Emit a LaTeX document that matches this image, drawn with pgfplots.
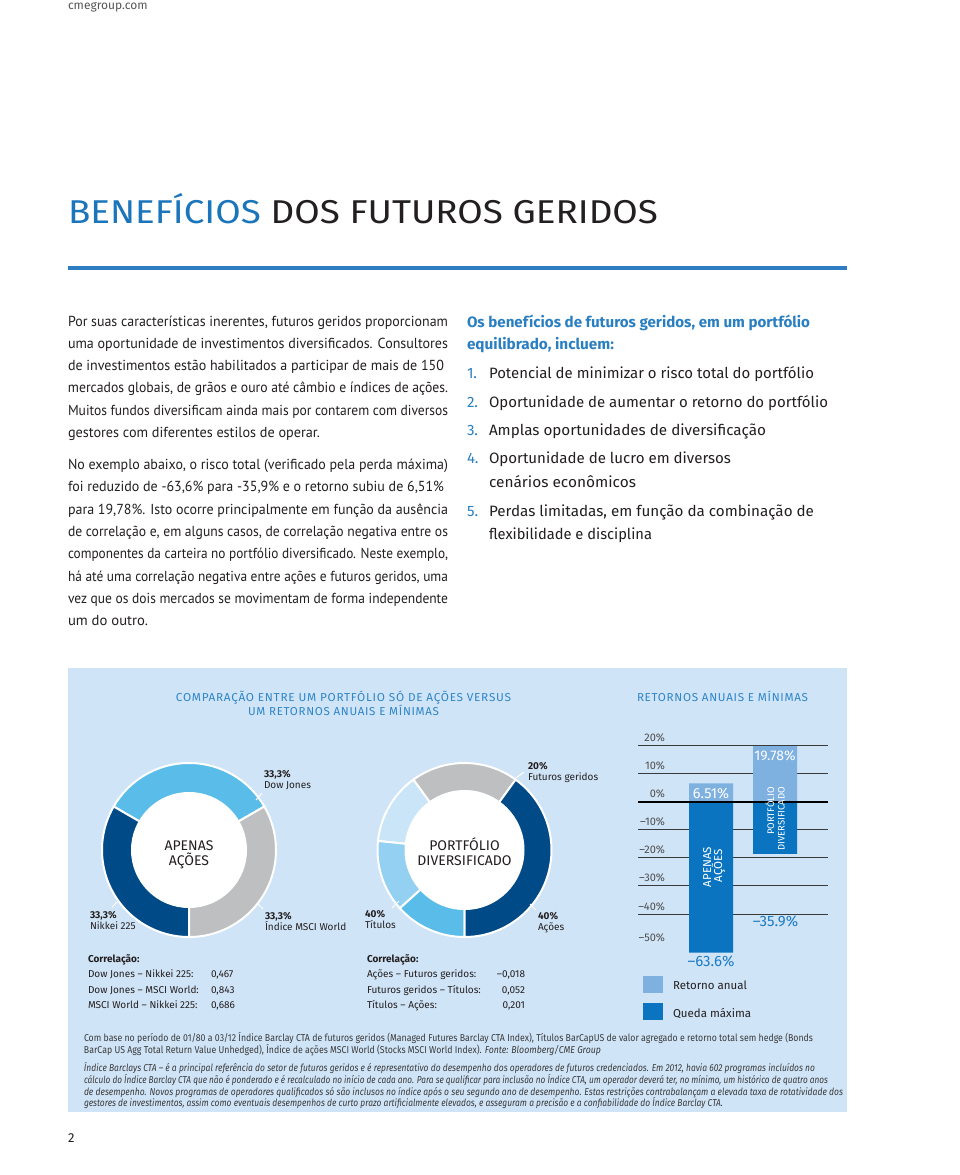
\documentclass[border=0pt]{standalone}
\usepackage{fontspec}
\setmainfont{Fira Sans}
\newfontfamily\ptsans{PT Sans}
\newfontfamily\spaced{Fira Sans}[LetterSpace=6.0]
\usepackage{graphicx}
\usepackage{pgfplots}
\pgfplotsset{compat=1.18}
\usetikzlibrary{calc}
\newlength\px \setlength\px{0.75pt}
\newcommand\fs[1]{\fontsize{#1\px}{#1\px}\selectfont}
\newcommand\fitline[2]{\resizebox{#1\px}{\height}{#2}}
\definecolor{txt}{HTML}{231F20}
\definecolor{hdrgray}{HTML}{555555}
\definecolor{cmeblue}{HTML}{1B75BB}
\definecolor{rulecol}{HTML}{2E7DC2}
\definecolor{headblue}{HTML}{2A7FC1}
\definecolor{bgbox}{HTML}{D0E4F7}
\definecolor{charttitle}{HTML}{2F86C9}
\definecolor{navy}{HTML}{004A87}
\definecolor{ltblue}{HTML}{5ABCE8}
\definecolor{dgray}{HTML}{BDBFC1}
\definecolor{paleblue}{HTML}{C9E5F7}
\definecolor{midblue}{HTML}{93D0F1}
\definecolor{barlight}{HTML}{7EB0E0}
\definecolor{bardark}{HTML}{0A74C1}
\definecolor{labblue}{HTML}{1C7CC5}
\definecolor{tickgray}{HTML}{4D4D4D}
\definecolor{gridcol}{HTML}{3A3A3A}
\definecolor{foot}{HTML}{3A3A3A}
\newcommand\seg[5]{%
  \pgfmathsetmacro\sa{-(#3)}\pgfmathsetmacro\ea{-(#4)}%
  \fill[#5, draw=white, line width=2\px] (#1,#2) -- ++(\sa:87) arc[start angle=\sa, end angle=\ea, radius=87] -- cycle;}
\begin{document}
\begin{tikzpicture}[x=\px,y=-\px, every node/.style={inner sep=0pt, outer sep=0pt},
  bodyline/.style={anchor=base west, font=\ptsans\fs{14.5}, text=txt},
  rline/.style={anchor=base west, font=\fs{15}, text=txt},
  rnum/.style={anchor=base west, font=\fs{15}, text=headblue},
  dlab/.style={anchor=base west, font=\fs{10}, text=txt},
  dpct/.style={anchor=base west, font=\fs{10}\bfseries, text=txt},
  corr/.style={anchor=base west, font=\fs{10}, text=txt},
  footl/.style={anchor=base west, font=\fs{10}, text=foot}]
\path[use as bounding box] (0,0) rectangle (960,1175);
\fill[white] (0,0) rectangle (960,1175);
% header
\node[anchor=base west, font=\fs{12}, text=hdrgray] at (68,9) {cmegroup.com};
\node[anchor=base west, font=\fs{33}] at (68,223) {\fitline{590}{\color{cmeblue}BENEFÍCIOS \color{txt}DOS FUTUROS GERIDOS}};
\fill[rulecol] (68,266) rectangle (847,270);
% left column
\node[bodyline] at (68,326) {\fitline{380}{Por suas características inerentes, futuros geridos proporcionam}};
\node[bodyline] at (68,348.3) {\fitline{380}{uma oportunidade de investimentos diversificados. Consultores}};
\node[bodyline] at (68,370.6) {\fitline{376}{de investimentos estão habilitados a participar de mais de 150}};
\node[bodyline] at (68,392.9) {\fitline{380}{mercados globais, de grãos e ouro até câmbio e índices de ações.}};
\node[bodyline] at (68,415.2) {\fitline{380}{Muitos fundos diversificam ainda mais por contarem com diversos}};
\node[bodyline] at (68,437.5) {\fitline{252}{gestores com diferentes estilos de operar.}};
\node[bodyline] at (68,469.5) {\fitline{380}{No exemplo abaixo, o risco total (verificado pela perda máxima)}};
\node[bodyline] at (68,491.8) {\fitline{376}{foi reduzido de -63,6\% para -35,9\% e o retorno subiu de 6,51\%}};
\node[bodyline] at (68,514.1) {\fitline{380}{para 19,78\%. Isto ocorre principalmente em função da ausência}};
\node[bodyline] at (68,536.4) {\fitline{380}{de correlação e, em alguns casos, de correlação negativa entre os}};
\node[bodyline] at (68,558.7) {\fitline{380}{componentes da carteira no portfólio diversificado. Neste exemplo,}};
\node[bodyline] at (68,581.0) {\fitline{380}{há até uma correlação negativa entre ações e futuros geridos, uma}};
\node[bodyline] at (68,603.3) {\fitline{380}{vez que os dois mercados se movimentam de forma independente}};
\node[bodyline] at (68,625.6) {\fitline{80}{um do outro.}};
% right column
\node[rline, text=headblue, font=\fs{15}\bfseries] at (467,327) {\fitline{343}{Os benefícios de futuros geridos, em um portfólio}};
\node[rline, text=headblue, font=\fs{15}\bfseries] at (467,349) {\fitline{147}{equilibrado, incluem:}};
\node[rnum] at (467,378) {1.};
\node[rline] at (489,378) {\fitline{325}{Potencial de minimizar o risco total do portfólio}};
\node[rnum] at (467,407) {2.};
\node[rline] at (489,407) {\fitline{339}{Oportunidade de aumentar o retorno do portfólio}};
\node[rnum] at (467,435) {3.};
\node[rline] at (489,435) {\fitline{277}{Amplas oportunidades de diversificação}};
\node[rnum] at (467,463) {4.};
\node[rline] at (489,463) {\fitline{242}{Oportunidade de lucro em diversos}};
\node[rline] at (489,487) {\fitline{147}{cenários econômicos}};
\node[rnum] at (467,516) {5.};
\node[rline] at (489,516) {\fitline{325}{Perdas limitadas, em função da combinação de}};
\node[rline] at (489,539) {\fitline{163}{flexibilidade e disciplina}};
% chart box
\fill[bgbox] (68,668) rectangle (847,1112);
\node[anchor=base, font=\spaced\fs{11.5}, text=charttitle] at (343.5,701) {\fitline{335}{COMPARAÇÃO ENTRE UM PORTFÓLIO SÓ DE AÇÕES VERSUS}};
\node[anchor=base, font=\spaced\fs{11.5}, text=charttitle] at (343.5,715) {\fitline{191}{UM RETORNOS ANUAIS E MÍNIMAS}};
\node[anchor=base west, font=\spaced\fs{11.5}, text=charttitle] at (637,701) {\fitline{171}{RETORNOS ANUAIS E MÍNIMAS}};
% donut 1
\seg{189}{850}{30}{150}{ltblue}
\seg{189}{850}{150}{270}{navy}
\seg{189}{850}{270}{390}{dgray}
\fill[white] (189,850) circle[radius=58];
\node[anchor=base, font=\fs{14}, text=txt] at (189,850) {APENAS};
\node[anchor=base, font=\fs{14}, text=txt] at (189,865) {AÇÕES};
\draw[white, line width=1\px] (256,800) -- (262,793);
\draw[white, line width=1\px] (112,907) -- (119,900);
\draw[white, line width=1\px] (257,903) -- (263,909);
\node[dpct] at (264,777) {33,3\%};
\node[dlab] at (264,788) {Dow Jones};
\node[dpct] at (90,918) {33,3\%};
\node[dlab] at (90,929) {Nikkei 225};
\node[dpct] at (265,919) {33,3\%};
\node[dlab] at (265,930) {Índice MSCI World};
% donut 2
\seg{464.5}{850}{54}{126}{dgray}
\seg{464.5}{850}{126}{174}{paleblue}
\seg{464.5}{850}{174}{222}{midblue}
\seg{464.5}{850}{222}{270}{ltblue}
\seg{464.5}{850}{270}{414}{navy}
\fill[white] (464.5,850) circle[radius=60];
\node[anchor=base, font=\fs{14}, text=txt] at (464.5,850) {PORTFÓLIO};
\node[anchor=base, font=\fs{14}, text=txt] at (464.5,865) {DIVERSIFICADO};
\draw[white, line width=1\px] (516,778) -- (524,772);
\draw[white, line width=1\px] (392,908) -- (399,901);
\draw[white, line width=1\px] (530,904) -- (536,910);
\node[dpct] at (528,769) {20\%};
\node[dlab] at (528,780) {Futuros geridos};
\node[dpct] at (365,917) {40\%};
\node[dlab] at (365,928) {Títulos};
\node[dpct] at (538,919) {40\%};
\node[dlab] at (538,930) {Ações};
% correlations
\node[corr, font=\fs{10}\bfseries] at (88,962) {Correlação:};
\node[corr] at (88,977) {Dow Jones – Nikkei 225:};
\node[corr] at (88,993) {Dow Jones – MSCI World:};
\node[corr] at (88,1008) {MSCI World – Nikkei 225:};
\node[corr] at (211,977) {0,467};
\node[corr] at (211,993) {0,843};
\node[corr] at (211,1008) {0,686};
\node[corr, font=\fs{10}\bfseries] at (367,962) {Correlação:};
\node[corr] at (367,977) {Ações – Futuros geridos:};
\node[corr] at (367,993) {Futuros geridos – Títulos:};
\node[corr] at (367,1008) {Títulos – Ações:};
\node[corr, anchor=base east] at (525,977) {–0,018};
\node[corr, anchor=base east] at (525,993) {0,052};
\node[corr, anchor=base east] at (525,1008) {0,201};
% bar chart
\coordinate (barorigin) at (638,961.7);
\begin{axis}[
  at={(barorigin)}, anchor=south west,
  scale only axis, width=190\px, height=218.9\px,
  xmin=0, xmax=190, ymin=-57, ymax=21,
  axis line style={draw=none},
  major tick style={draw=none}, minor tick style={draw=none},
  xtick=\empty,
  ytick={-40,-30,-20,-10,0,10,20},
  yticklabels={–40\%,–30\%,–20\%,–10\%,0\%,10\%,20\%},
  extra y ticks={-51.3},
  extra y tick labels={–50\%},
  extra y tick style={grid=none},
  ymajorgrids, grid style={draw=gridcol, line width=1\px},
  yticklabel style={anchor=base east, xshift=27\px, yshift=4\px, font=\fs{11}, text=tickgray},
  clip=false,
]
\addplot[ybar, bar width=44, bar shift=0pt, fill=barlight, draw=none] coordinates {(73,6.51) (137,19.78)};
\addplot[ybar, bar width=44, bar shift=0pt, fill=bardark, draw=none] coordinates {(73,-53.8) (137,-18.6)};
\draw[black, line width=2\px] (axis cs:0,0) -- (axis cs:190,0);
\end{axis}
\node[anchor=base, font=\fs{14.5}, text=white] at (711,798) {6.51\%};
\node[anchor=base, font=\fs{14}, text=white] at (775,760.5) {19.78\%};
\node[anchor=base, font=\fs{15}, text=labblue] at (711,966.5) {–63.6\%};
\node[anchor=base, font=\fs{15}, text=labblue] at (775.5,926.5) {–35.9\%};
\node[rotate=90, anchor=base, font=\fs{11.5}, text=white] at (711,867) {APENAS};
\node[rotate=90, anchor=base, font=\fs{11.5}, text=white] at (722,866) {AÇÕES};
\node[rotate=90, anchor=base east, font=\fs{9.5}, text=white] at (774,787) {PORTFÓLIO};
\node[rotate=90, anchor=base east, font=\fs{9.5}, text=white] at (784.5,787) {DIVERSIFICADO};
% legend
\fill[barlight] (643,976) rectangle (663,993);
\node[anchor=base west, font=\fs{11.5}, text=txt] at (673,989) {Retorno anual};
\fill[bardark] (643,1003) rectangle (663,1020);
\node[anchor=base west, font=\fs{11.5}, text=txt] at (673,1017) {Queda máxima};
% footnotes
\node[footl] at (84,1041.5) {\fitline{729}{Com base no período de 01/80 a 03/12 Índice Barclay CTA de futuros geridos (Managed Futures Barclay CTA Index), Títulos BarCapUS de valor agregado e retorno total sem hedge (Bonds}};
\node[footl] at (84,1053.5) {\fitline{517}{BarCap US Agg Total Return Value Unhedged), Índice de ações MSCI World (Stocks MSCI World Index). \textit{Fonte: Bloomberg/CME Group}}};
\node[footl, font=\fs{10}\itshape] at (84,1071.5) {\fitline{731}{Índice Barclays CTA – é a principal referência do setor de futuros geridos e é representativo do desempenho dos operadores de futuros credenciados. Em 2012, havia 602 programas incluídos no}};
\node[footl, font=\fs{10}\itshape] at (84,1083.5) {\fitline{744}{cálculo do Índice Barclay CTA que não é ponderado e é recalculado no início de cada ano. Para se qualificar para inclusão no Índice CTA, um operador deverá ter, no mínimo, um histórico de quatro anos}};
\node[footl, font=\fs{10}\itshape] at (84,1095.5) {\fitline{759}{de desempenho. Novos programas de operadores qualificados só são inclusos no índice após o seu segundo ano de desempenho. Estas restrições contrabalançam a elevada taxa de rotatividade dos}};
\node[footl, font=\fs{10}\itshape] at (84,1106.5) {\fitline{639}{gestores de investimentos, assim como eventuais desempenhos de curto prazo artificialmente elevados, e asseguram a precisão e a confiabilidade do Índice Barclay CTA.}};
% page number
\node[anchor=base west, font=\fs{13}, text=txt] at (68,1142) {2};
\end{tikzpicture}
\end{document}
